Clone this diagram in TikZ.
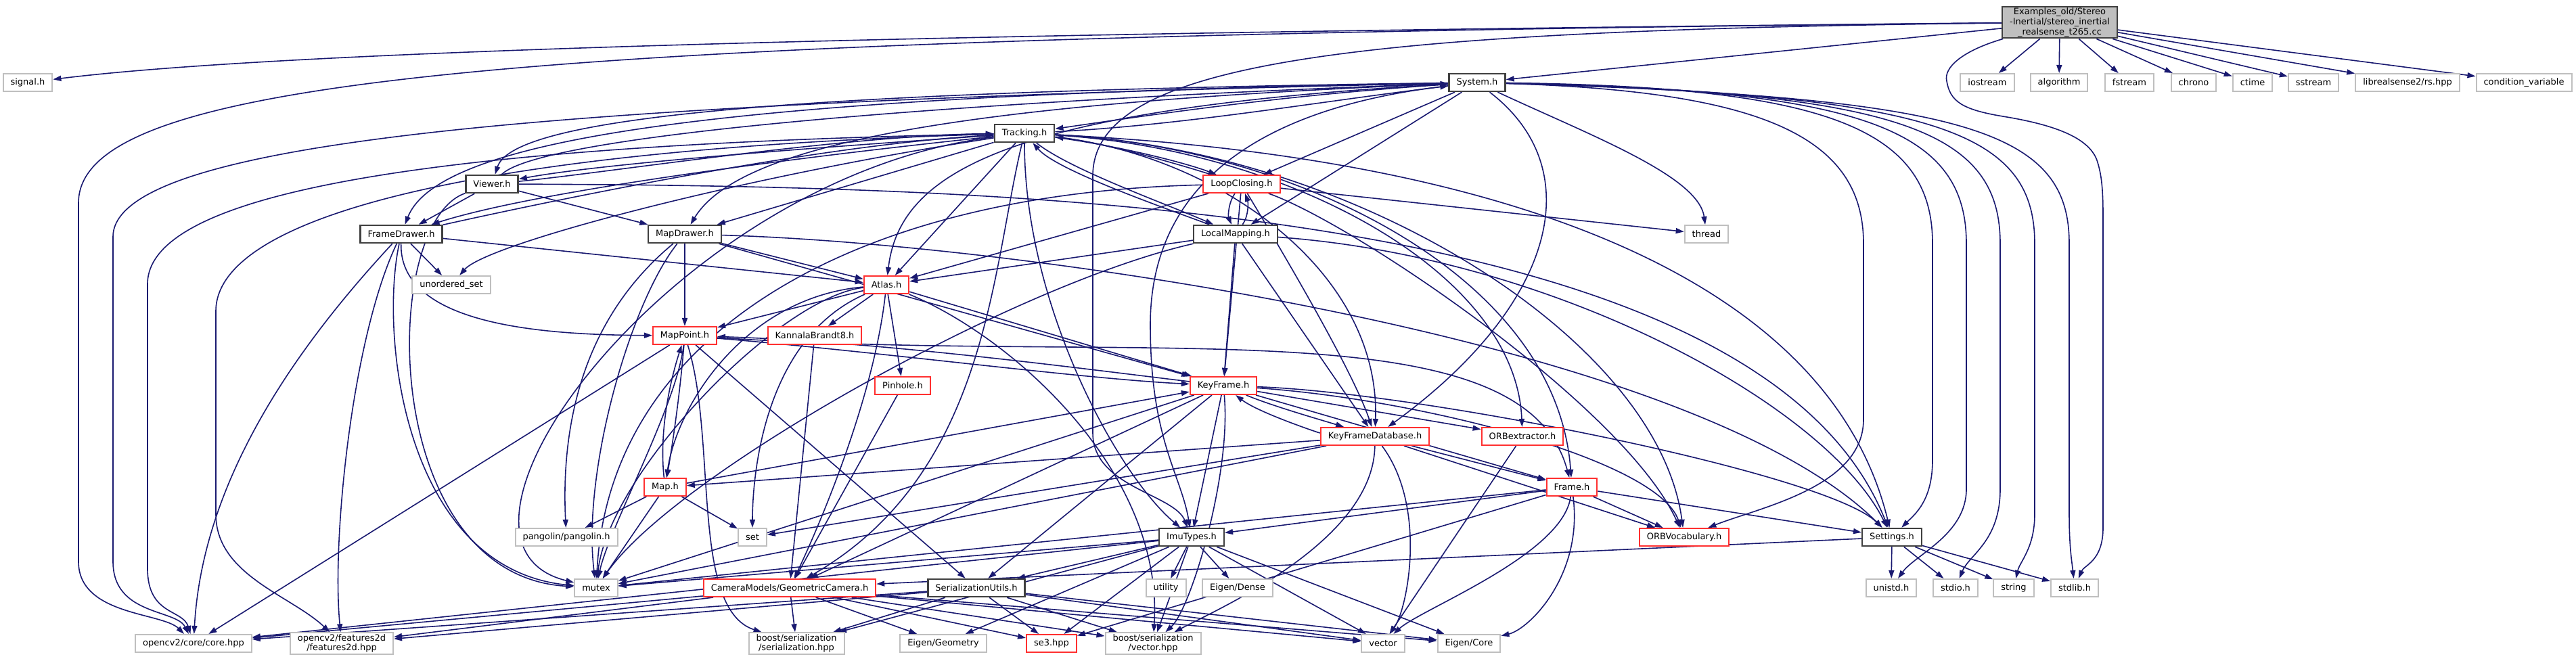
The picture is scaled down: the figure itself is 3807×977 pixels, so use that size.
\documentclass[tikz,border=0pt]{standalone}
\usepackage{fontspec}
\setmainfont{DejaVu Sans}
\usepackage{xcolor}
\usepackage{tikz}
\usetikzlibrary{arrows.meta}
\definecolor{edgeblue}{HTML}{191970}
\definecolor{extgrey}{HTML}{BFBFBF}
\definecolor{docgrey}{HTML}{404040}
\definecolor{truncred}{HTML}{FF3030}
\definecolor{mainfill}{HTML}{BFBFBF}
\newcommand{\dgfont}{\fontsize{6.5}{7.4}\selectfont}
\pgfdeclarelayer{paper}
\pgfdeclarelayer{edges}
\pgfsetlayers{paper,edges,main}

\begin{document}
\begin{tikzpicture}[
    x=0.5pt, y=-0.5pt,
    filebox/.style={
        rectangle,
        fill=white,
        minimum height=13pt,
        inner xsep=5.5pt,
        inner ysep=1pt,
        align=center,
        font=\dgfont
    },
    extfile/.style={filebox, draw=extgrey, line width=1pt},
    docfile/.style={filebox, draw=docgrey, line width=1.2pt},
    truncfile/.style={filebox, draw=truncred, line width=1pt},
    link/.style={-{Triangle[length=6pt,width=4pt]}, draw=edgeblue, line width=0.8pt}
]
\begin{pgfonlayer}{paper}
\useasboundingbox[fill=white] (0,0) rectangle (3807,977);
\end{pgfonlayer}

% top row
\node[docfile, fill=mainfill] (main) at (3044,33)
{Examples\_old/Stereo\\-Inertial/stereo\_inertial\\\_realsense\_t265.cc};
\node[extfile] (signal) at (41,122) {signal.h};
\node[docfile] (System) at (2183,122) {System.h};
\node[extfile] (iostream) at (2937,122) {iostream};
\node[extfile] (algorithm) at (3043,122) {algorithm};
\node[extfile] (fstream) at (3147,122) {fstream};
\node[extfile] (chrono) at (3242,122) {chrono};
\node[extfile] (ctime) at (3329,122) {ctime};
\node[extfile] (sstream) at (3419,122) {sstream};
\node[extfile] (rs) at (3558,122) {librealsense2/rs.hpp};
\node[extfile] (condvar) at (3730,122) {condition\_variable};

% threads and drawers
\node[docfile] (Tracking) at (1514,197) {Tracking.h};
\node[docfile] (Viewer) at (727,272) {Viewer.h};
\node[truncfile] (LoopClosing) at (1835,272) {LoopClosing.h};
\node[docfile] (FrameDrawer) at (593,346) {FrameDrawer.h};
\node[docfile] (MapDrawer) at (1012,346) {MapDrawer.h};
\node[docfile] (LocalMapping) at (1826,346) {LocalMapping.h};
\node[extfile] (thread) at (2522,346) {thread};
\node[extfile] (unorderedset) at (667,421) {unordered\_set};
\node[truncfile] (Atlas) at (1310,421) {Atlas.h};

% map structures
\node[truncfile] (MapPoint) at (1012,496) {MapPoint.h};
\node[truncfile] (Kannala) at (1204,496) {KannalaBrandt8.h};
\node[truncfile] (Pinhole) at (1334,570) {Pinhole.h};
\node[truncfile] (KeyFrame) at (1808,570) {KeyFrame.h};
\node[truncfile] (KFDB) at (2032,645) {KeyFrameDatabase.h};
\node[truncfile] (ORBext) at (2250,645) {ORBextractor.h};
\node[truncfile] (Map) at (983,720) {Map.h};
\node[truncfile] (Frame) at (2323,720) {Frame.h};
\node[extfile] (pangolin) at (837,794) {pangolin/pangolin.h};
\node[extfile] (set) at (1112,794) {set};
\node[docfile] (ImuTypes) at (1761,794) {ImuTypes.h};
\node[truncfile] (ORBVoc) at (2489,794) {ORBVocabulary.h};
\node[docfile] (Settings) at (2796,794) {Settings.h};

% lower rows
\node[extfile] (mutex) at (881,869) {mutex};
\node[truncfile] (GeomCam) at (1167,869) {CameraModels/GeometricCamera.h};
\node[docfile] (SerUtils) at (1443,869) {SerializationUtils.h};
\node[extfile] (utility) at (1723,869) {utility};
\node[extfile] (EigenDense) at (1829,869) {Eigen/Dense};
\node[extfile] (unistd) at (2795,869) {unistd.h};
\node[extfile] (stdio) at (2890,869) {stdio.h};
\node[extfile] (string) at (2976,869) {string};
\node[extfile] (stdlib) at (3066,869) {stdlib.h};
\node[extfile] (opencvcore) at (286,951) {opencv2/core/core.hpp};
\node[extfile] (features2d) at (505,951) {opencv2/features2d\\/features2d.hpp};
\node[extfile] (boostser) at (1177,951) {boost/serialization\\/serialization.hpp};
\node[extfile] (EigenGeom) at (1394,951) {Eigen/Geometry};
\node[truncfile] (se3) at (1554,951) {se3.hpp};
\node[extfile] (boostvec) at (1704,951) {boost/serialization\\/vector.hpp};
\node[extfile] (vector) at (2044,951) {vector};
\node[extfile] (EigenCore) at (2171,951) {Eigen/Core};

\begin{pgfonlayer}{edges}
% main file
\foreach \t in {iostream,algorithm,fstream,chrono,ctime,sstream,rs,condvar}
    \draw[link] (main) -- (\t);
\draw[link] (main) .. controls (1800,45) and (500,65) .. (signal);
\draw[link] (main) -- (System);
\draw[link] (main) .. controls (800,55) and (116,110) .. (116,300) -- (116,830) .. controls (116,910) and (240,905) .. (opencvcore);
\draw[link] (main) .. controls (2000,45) and (1615,90) .. (1615,260) -- (1615,640) .. controls (1615,720) and (1735,730) .. (ImuTypes);
\draw[link] (main) .. controls (2900,75) and (2872,100) .. (2877,120) .. controls (2882,150) and (2900,162) .. (2960,172) .. controls (3040,185) and (3090,205) .. (3100,240) .. controls (3106,260) and (3108,280) .. (3108,320) -- (3108,780) .. controls (3108,830) and (3080,835) .. (stdlib);

% System.h
\draw[link] (System) .. controls (1900,140) and (1700,170) .. (Tracking);
\draw[link] (System) -- (LoopClosing);
\draw[link] (System) -- (LocalMapping);
\draw[link] (System) .. controls (1200,135) and (760,170) .. (Viewer);
\draw[link] (System) .. controls (1100,140) and (650,200) .. (FrameDrawer);
\draw[link] (System) .. controls (1500,150) and (1100,200) .. (MapDrawer);
\draw[link] (System) .. controls (1500,160) and (1330,250) .. (Atlas);
\draw[link] (System) .. controls (2350,200) and (2510,260) .. (thread);
\draw[link] (System) .. controls (2350,250) and (2300,450) .. (KFDB);
\draw[link] (System) .. controls (1850,160) and (1700,280) .. (1700,480) .. controls (1700,650) and (1745,700) .. (ImuTypes);
\draw[link] (System) .. controls (900,150) and (167,200) .. (167,350) -- (167,830) .. controls (167,910) and (260,900) .. (opencvcore);
\draw[link] (System) .. controls (2600,135) and (2754,200) .. (2754,360) -- (2754,620) .. controls (2754,720) and (2600,750) .. (ORBVoc);
\draw[link] (System) .. controls (2700,128) and (2856,190) .. (2856,360) -- (2856,680) .. controls (2856,740) and (2830,760) .. (Settings);
\draw[link] (System) .. controls (2750,132) and (2906,190) .. (2906,360) -- (2906,723) .. controls (2906,790) and (2830,820) .. (unistd);
\draw[link] (System) .. controls (2800,136) and (2956,190) .. (2956,360) -- (2956,723) .. controls (2956,800) and (2910,820) .. (stdio);
\draw[link] (System) .. controls (2850,140) and (3007,190) .. (3007,360) -- (3007,760) .. controls (3007,810) and (2985,830) .. (string);
\draw[link] (System) .. controls (2900,144) and (3058,190) .. (3058,360) -- (3058,760) .. controls (3058,810) and (3062,830) .. (stdlib);

% Tracking.h
\draw[link] (Tracking) .. controls (1750,185) and (1950,150) .. (System);
\draw[link] (Tracking) .. controls (1250,215) and (900,240) .. (Viewer);
\draw[link] (Tracking) .. controls (1200,230) and (800,280) .. (FrameDrawer);
\draw[link] (Tracking) .. controls (1650,215) and (1750,240) .. (LoopClosing);
\draw[link] (Tracking) .. controls (1580,250) and (1720,300) .. (LocalMapping);
\draw[link] (Tracking) -- (Atlas);
\draw[link] (Tracking) -- (MapDrawer);
\draw[link] (Tracking) .. controls (1900,215) and (2300,400) .. (Frame);
\draw[link] (Tracking) .. controls (2000,220) and (2450,500) .. (ORBVoc);
\draw[link] (Tracking) .. controls (1800,230) and (2040,400) .. (KFDB);
\draw[link] (Tracking) .. controls (1900,220) and (2240,400) .. (ORBext);
\draw[link] (Tracking) .. controls (1514,450) and (1650,700) .. (ImuTypes);
\draw[link] (Tracking) .. controls (2200,230) and (2700,400) .. (Settings);
\draw[link] (Tracking) .. controls (1465,400) and (1460,700) .. (GeomCam);
\draw[link] (Tracking) .. controls (1000,260) and (600,800) .. (mutex);
\draw[link] (Tracking) .. controls (1100,260) and (720,360) .. (unorderedset);
\draw[link] (Tracking) .. controls (600,215) and (218,290) .. (218,420) -- (218,840) .. controls (218,910) and (270,900) .. (opencvcore);
\draw[link] (Tracking) .. controls (700,220) and (319,320) .. (319,460) -- (319,760) .. controls (319,850) and (430,880) .. (features2d);

% Viewer.h
\draw[link] (Viewer) -- (FrameDrawer);
\draw[link] (Viewer) -- (MapDrawer);
\draw[link] (Viewer) .. controls (900,255) and (1250,200) .. (Tracking);
\draw[link] (Viewer) .. controls (800,200) and (1400,150) .. (System);
\draw[link] (Viewer) .. controls (1500,275) and (2600,300) .. (Settings);
\draw[link] (Viewer) .. controls (560,330) and (560,850) .. (mutex);

% FrameDrawer.h
\draw[link] (FrameDrawer) .. controls (800,300) and (1200,215) .. (Tracking);
\draw[link] (FrameDrawer) -- (Atlas);
\draw[link] (FrameDrawer) -- (unorderedset);
\draw[link] (FrameDrawer) .. controls (590,480) and (800,495) .. (MapPoint);
\draw[link] (FrameDrawer) .. controls (450,500) and (300,700) .. (opencvcore);
\draw[link] (FrameDrawer) .. controls (520,500) and (490,800) .. (features2d);
\draw[link] (FrameDrawer) .. controls (560,500) and (600,840) .. (mutex);

% MapDrawer.h
\draw[link] (MapDrawer) -- (Atlas);
\draw[link] (MapDrawer) -- (MapPoint);
\draw[link] (MapDrawer) -- (KeyFrame);
\draw[link] (MapDrawer) .. controls (1500,360) and (2500,500) .. (Settings);
\draw[link] (MapDrawer) .. controls (850,480) and (830,650) .. (pangolin);
\draw[link] (MapDrawer) .. controls (930,450) and (860,700) .. (mutex);

% LoopClosing.h
\draw[link] (LoopClosing) .. controls (1700,230) and (1620,210) .. (Tracking);
\draw[link] (LoopClosing) .. controls (1815,300) and (1815,320) .. (LocalMapping);
\draw[link] (LoopClosing) -- (KeyFrame);
\draw[link] (LoopClosing) -- (Atlas);
\draw[link] (LoopClosing) -- (thread);
\draw[link] (LoopClosing) .. controls (2000,330) and (2400,600) .. (ORBVoc);
\draw[link] (LoopClosing) .. controls (1900,380) and (2000,550) .. (KFDB);
\draw[link] (LoopClosing) .. controls (1250,285) and (900,500) .. (mutex);

% LocalMapping.h
\draw[link] (LocalMapping) .. controls (1845,320) and (1845,300) .. (LoopClosing);
\draw[link] (LocalMapping) .. controls (1700,300) and (1560,250) .. (Tracking);
\draw[link] (LocalMapping) -- (KeyFrame);
\draw[link] (LocalMapping) -- (Atlas);
\draw[link] (LocalMapping) -- (KFDB);
\draw[link] (LocalMapping) .. controls (2300,380) and (2700,600) .. (Settings);
\draw[link] (LocalMapping) .. controls (1500,420) and (1000,700) .. (mutex);

% Atlas.h
\foreach \t in {MapPoint,KeyFrame,Pinhole,Kannala}
    \draw[link] (Atlas) -- (\t);
\draw[link] (Atlas) .. controls (1100,440) and (1000,600) .. (Map);
\draw[link] (Atlas) .. controls (1290,600) and (1200,800) .. (GeomCam);
\draw[link] (Atlas) .. controls (1130,500) and (1112,700) .. (set);
\draw[link] (Atlas) .. controls (1150,440) and (900,700) .. (mutex);
\draw[link] (Atlas) .. controls (1500,500) and (1720,700) .. (boostvec);

% MapPoint.h
\draw[link] (MapPoint) .. controls (1300,520) and (1600,560) .. (KeyFrame);
\draw[link] (MapPoint) .. controls (1005,580) and (995,650) .. (Map);
\draw[link] (MapPoint) -- (SerUtils);
\draw[link] (MapPoint) -- (opencvcore);
\draw[link] (MapPoint) .. controls (1700,540) and (2250,450) .. (Frame);
\draw[link] (MapPoint) .. controls (1000,600) and (900,780) .. (mutex);
\draw[link] (MapPoint) .. controls (1060,650) and (1020,900) .. (boostser);

% KeyFrame.h
\draw[link] (KeyFrame) .. controls (1600,545) and (1300,505) .. (MapPoint);
\draw[link] (KeyFrame) .. controls (1880,600) and (1950,620) .. (KFDB);
\foreach \t in {ORBext,Frame,ImuTypes,GeomCam,SerUtils,mutex}
    \draw[link] (KeyFrame) -- (\t);
\draw[link] (KeyFrame) .. controls (2100,590) and (2450,680) .. (ORBVoc);
\draw[link] (KeyFrame) .. controls (1820,700) and (1760,900) .. (boostvec);
\draw[link] (KeyFrame) .. controls (2100,580) and (2700,700) .. (Settings);

% KeyFrameDatabase.h
\draw[link] (KFDB) .. controls (1950,640) and (1860,610) .. (KeyFrame);
\foreach \t in {Frame,ORBVoc,Map,set,mutex}
    \draw[link] (KFDB) -- (\t);
\draw[link] (KFDB) .. controls (2110,750) and (2080,900) .. (vector);
\draw[link] (KFDB) .. controls (2030,800) and (1800,900) .. (boostvec);

% Frame.h
\foreach \t in {ImuTypes,ORBVoc,Settings,mutex,se3}
    \draw[link] (Frame) -- (\t);
\draw[link] (Frame) .. controls (2310,820) and (2100,900) .. (vector);
\draw[link] (Frame) .. controls (2340,850) and (2260,930) .. (EigenCore);

% Map.h
\draw[link] (Map) .. controls (975,650) and (985,580) .. (MapPoint);
\foreach \t in {KeyFrame,set,pangolin,mutex}
    \draw[link] (Map) -- (\t);

% ImuTypes.h
\foreach \t in {vector,utility,opencvcore,EigenCore,EigenGeom,EigenDense,se3,mutex,boostser,boostvec,SerUtils}
    \draw[link] (ImuTypes) -- (\t);

% SerializationUtils.h
\foreach \t in {boostser,boostvec,opencvcore,features2d,se3,vector,EigenCore}
    \draw[link] (SerUtils) -- (\t);

% GeometricCamera.h
\foreach \t in {opencvcore,features2d,boostser,EigenGeom,se3,vector,EigenCore,boostvec}
    \draw[link] (GeomCam) -- (\t);

% Settings.h
\foreach \t in {GeomCam,unistd,stdio,string,stdlib}
    \draw[link] (Settings) -- (\t);

% cameras and extractor
\draw[link] (Pinhole) -- (GeomCam);
\draw[link] (Kannala) -- (GeomCam);
\draw[link] (ORBext) -- (vector);
\end{pgfonlayer}

\end{tikzpicture}
\end{document}
